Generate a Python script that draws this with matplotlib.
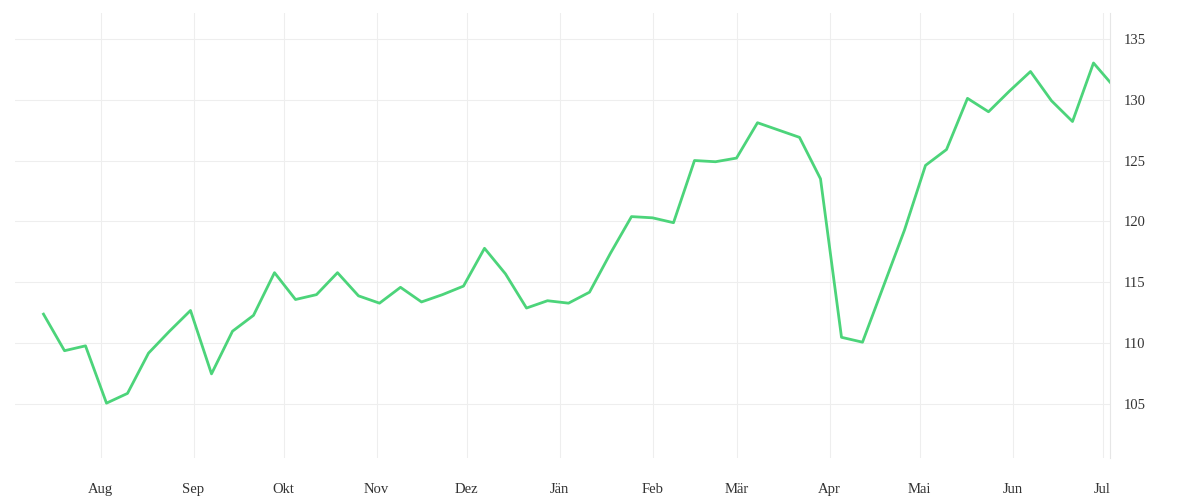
import matplotlib
matplotlib.use("Agg")
import matplotlib.pyplot as plt
import pandas as pd

dates = pd.date_range("2022-07-13", periods=52, freq="7D")
values = [112.4,109.4,109.8,105.1,105.9,109.2,111.0,112.7,107.5,111.0,112.3,115.8,
          113.6,114.0,115.8,113.9,113.3,114.6,113.4,114.0,114.7,117.8,115.7,112.9,
          113.5,113.3,114.2,117.4,120.4,120.3,119.9,125.0,124.9,125.2,128.1,127.5,
          126.9,123.5,110.5,110.1,114.7,119.3,124.6,125.9,130.1,129.0,130.7,132.3,
          129.9,128.2,133.0,131.0]
month_labels = ["Aug","Sep","Okt","Nov","Dez","Jän","Feb","Mär","Apr","Mai","Jun","Jul"]
month_ticks = pd.date_range("2022-08-01", periods=12, freq="MS")

fig = plt.figure(figsize=(12, 5), dpi=100)
ax = fig.add_axes([15/1200, 42/500, 1095/1200, 445/500])
ax.plot(dates, values, color="#4cd47a", lw=2)
ax.set_xlim(pd.Timestamp("2022-07-03 12:00"), pd.Timestamp("2023-07-03 12:00"))
ax.set_ylim(100.6, 137.1)
ax.set_xticks(month_ticks)
ax.set_xticklabels(month_labels)
ax.set_yticks([105,110,115,120,125,130,135])
ax.yaxis.tick_right()
for s in ["top","left","bottom"]:
    ax.spines[s].set_visible(False)
ax.spines["right"].set_color("#e6e6e6")
ax.grid(True, color="#eeeeee", lw=0.8)
ax.tick_params(length=0, labelsize=10.5, colors="#333333")
ax.tick_params(axis="x", pad=18)
ax.tick_params(axis="y", pad=10)
for t in ax.get_xticklabels()+ax.get_yticklabels():
    t.set_family("Liberation Serif")
fig.savefig("out.png")
